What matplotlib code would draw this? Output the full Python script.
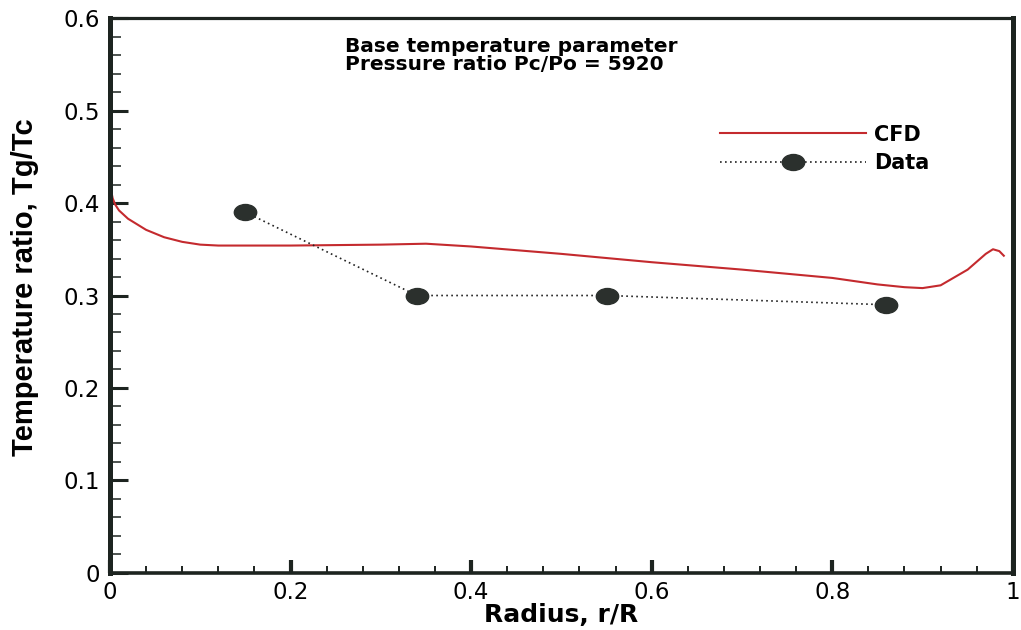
import matplotlib.pyplot as plt
from matplotlib.markers import MarkerStyle
from matplotlib.transforms import Affine2D
from matplotlib.ticker import MultipleLocator

plt.rcParams['font.family'] = ['DejaVu Sans']

# CFD curve
cfd_r = [0.0, 0.003, 0.006, 0.01, 0.02, 0.04, 0.06, 0.08, 0.10, 0.12, 0.2, 0.3,
         0.35, 0.4, 0.5, 0.6, 0.7, 0.8, 0.85, 0.88, 0.9, 0.92, 0.95, 0.97, 0.978,
         0.985, 0.99]
cfd_t = [0.42, 0.405, 0.398, 0.392, 0.383, 0.371, 0.363, 0.358, 0.355, 0.354,
         0.354, 0.355, 0.356, 0.353, 0.345, 0.336, 0.328, 0.319, 0.312, 0.309,
         0.308, 0.311, 0.328, 0.345, 0.350, 0.348, 0.343]

# measured data
data_r = [0.15, 0.34, 0.55, 0.86]
data_t = [0.39, 0.30, 0.30, 0.29]

xticks = [0, 0.2, 0.4, 0.6, 0.8, 1]
xtick_labels = ['0', '0.2', '0.4', '0.6', '0.8', '1']
yticks = [0, 0.1, 0.2, 0.3, 0.4, 0.5, 0.6]
ytick_labels = ['0', '0.1', '0.2', '0.3', '0.4', '0.5', '0.6']

fig = plt.figure(figsize=(10.21, 6.3), dpi=100)
ax = fig.add_axes([0.1077, 0.0905, 0.8843, 0.8809])

ax.plot(cfd_r, cfd_t, color='#c42a2e', lw=1.5, label='CFD')
oval = MarkerStyle('o', transform=Affine2D().scale(1.4, 1.0))
ax.plot(data_r, data_t, ls=(0, (1, 2.0)), color='#222222', lw=1.2,
        marker=oval, ms=11.5, mfc='#2b302d', mec='#2b302d', label='Data')

ax.set_xlim(0, 1)
ax.set_ylim(0, 0.6)
ax.set_xticks(xticks)
ax.set_xticklabels(xtick_labels)
ax.set_yticks(yticks)
ax.set_yticklabels(ytick_labels)
ax.xaxis.set_minor_locator(MultipleLocator(0.04))
ax.yaxis.set_minor_locator(MultipleLocator(0.02))

ink = '#1d2420'
ax.xaxis.set_tick_params(which='major', direction='in', length=9.5, width=3,
                         labelsize=16.5, pad=6, color=ink)
ax.xaxis.set_tick_params(which='minor', direction='in', length=5, width=1.4,
                         color=ink)
ax.yaxis.set_tick_params(which='major', direction='in', length=13, width=2.2,
                         labelsize=16.5, pad=7, color=ink)
ax.yaxis.set_tick_params(which='minor', direction='in', length=8, width=1.1,
                         color=ink)
ax.spines['left'].set_linewidth(3.6)
ax.spines['right'].set_linewidth(3.6)
ax.spines['top'].set_linewidth(2.3)
ax.spines['bottom'].set_linewidth(2.6)
for s in ax.spines.values():
    s.set_color(ink)

ax.set_xlabel('Radius, r/R', fontsize=18, fontweight='bold', labelpad=-1)
ax.set_ylabel('Temperature ratio, Tg/Tc', fontsize=21, fontweight='bold',
              family=['Liberation Sans', 'DejaVu Sans'])
ax.yaxis.set_label_coords(-0.079, 0.515)

ax.text(0.26, 0.965, 'Base temperature parameter\nPressure ratio Pc/Po = 5920',
        transform=ax.transAxes, fontsize=14.5, fontweight='bold',
        va='top', ha='left', linespacing=0.9)

ax.legend(loc='upper left', bbox_to_anchor=(0.6755, 0.808), frameon=False,
          borderpad=0, borderaxespad=0, handlelength=7.0, handletextpad=0.4,
          labelspacing=0.4, prop={'weight': 'bold', 'size': 15})

fig.savefig('out.png', dpi=100)
